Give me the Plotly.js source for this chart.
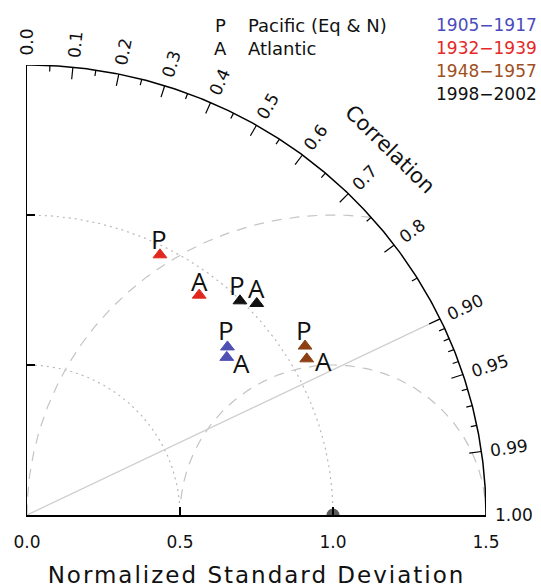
<!DOCTYPE html>
<html><head><meta charset="utf-8">
<script src="https://cdn.plot.ly/plotly-3.0.1.min.js"></script>
<style>
html,body{margin:0;padding:0;background:#fff;}
#chart{width:541px;height:588px;}
text.xtitle{letter-spacing:2px;}
</style></head>
<body><div id="chart"></div>
<script>
// ---------------- DATA ----------------
const periods = ['1905\u22121917', '1932\u22121939', '1948\u22121957', '1998\u22122002'];
const pacificStd   = [0.862, 0.970, 1.069, 0.997];
const pacificCorr  = [0.760, 0.448, 0.850, 0.698];
const atlanticStd  = [0.838, 0.924, 1.052, 1.030];
const atlanticCorr = [0.779, 0.609, 0.869, 0.729];
const regionCodes  = ['P', 'A'];
const regionNames  = ['Pacific (Eq & N)', 'Atlantic'];

const corrMajor  = [0.0, 0.1, 0.2, 0.3, 0.4, 0.5, 0.6, 0.7, 0.8, 0.9, 0.95, 0.99, 1.0];
const corrLabels = ['0.0','0.1','0.2','0.3','0.4','0.5','0.6','0.7','0.8','0.90','0.95','0.99','1.00'];
const corrMinor  = [0.05,0.15,0.25,0.35,0.45,0.55,0.65,0.75,0.85,0.91,0.92,0.93,0.94,0.96,0.97,0.98];
const stdTicks   = [0.0, 0.5, 1.0, 1.5];
const stdLabels  = ['0.0','0.5','1.0','1.5'];
const stdCircles = [0.5, 1.0];
const rmsCircles = [0.5, 1.0];
const refCorrLine = 0.9;
const refStd = 1.0;
const rMax = 1.5;

// ---------------- STYLE ----------------
const periodColors = ['#5050b4', '#e0281e', '#8c4014', '#111111'];
const legendColors = ['#4b4bbe', '#e62828', '#a0501e', '#111111'];
// label offsets (px) per period: [Pacific, Atlantic]
const labelOffsets = [
  [[-1,17],[15,-6]],
  [[-1,16],[0,14]],
  [[-1,16],[17,-2]],
  [[-3,16],[0,15]]
];
const FONT = 'DejaVu Sans';

function xy(s, c){ const t = Math.acos(c); return [s*Math.cos(t), s*Math.sin(t)]; }

const traces = [];
const annotations = [];

// std (dotted) arcs
stdCircles.forEach(r => {
  const xs=[], ys=[];
  for (let i=0;i<=200;i++){ const t=i/200*Math.PI/2; xs.push(r*Math.cos(t)); ys.push(r*Math.sin(t)); }
  traces.push({x:xs,y:ys,mode:'lines',line:{color:'#b8b8b8',width:1.2,dash:'2px,4px'},hoverinfo:'skip',showlegend:false});
});
// rms (dashed) arcs centred on reference
rmsCircles.forEach(rho => {
  let c0 = (rMax*rMax - refStd*refStd - rho*rho)/(2*rho*refStd);
  c0 = Math.max(-1, Math.min(1, c0));
  const t0 = Math.acos(c0);
  const xs=[], ys=[];
  for (let i=0;i<=200;i++){ const t=t0+(Math.PI-t0)*i/200; xs.push(refStd+rho*Math.cos(t)); ys.push(rho*Math.sin(t)); }
  traces.push({x:xs,y:ys,mode:'lines',line:{color:'#c4c4c4',width:1.2,dash:'10px,8px'},hoverinfo:'skip',showlegend:false});
});
// correlation reference line
{
  const p = xy(rMax, refCorrLine);
  traces.push({x:[0,p[0]],y:[0,p[1]],mode:'lines',line:{color:'#cfcfcf',width:1.3},hoverinfo:'skip',showlegend:false});
}
// outer arc
{
  const xs=[], ys=[];
  for (let i=0;i<=300;i++){ const t=i/300*Math.PI/2; xs.push(rMax*Math.cos(t)); ys.push(rMax*Math.sin(t)); }
  traces.push({x:xs,y:ys,mode:'lines',line:{color:'#000',width:1.5},cliponaxis:false,hoverinfo:'skip',showlegend:false});
}
// arc ticks
{
  const xs=[], ys=[];
  const add = (c, len) => { const a = xy(rMax, c), b = xy(rMax-len, c); xs.push(a[0], b[0], null); ys.push(a[1], b[1], null); };
  corrMajor.forEach(c => { if (c>0 && c<1) add(c, 0.04); });
  corrMinor.forEach(c => add(c, 0.02));
  traces.push({x:xs,y:ys,mode:'lines',line:{color:'#000',width:1.2},cliponaxis:false,hoverinfo:'skip',showlegend:false});
}
// arc tick labels
corrMajor.forEach((c, i) => {
  const t = Math.acos(c);
  const lbl = corrLabels[i];
  let w = 0; for (const ch of lbl) w += (ch === '.' ? 0.318 : 0.636);
  w = w*17 - 2;
  const d = 10 + w/2;
  const p = xy(rMax, c);
  annotations.push({x:p[0], y:p[1], xref:'x', yref:'y', text:lbl, showarrow:false,
    xanchor:'center', yanchor:'middle', textangle:-t*180/Math.PI,
    xshift:d*Math.cos(t), yshift:d*Math.sin(t), font:{family:FONT,size:17,color:'#111'}});
});
// "Correlation" title along arc
{
  const p = xy(1.70, 0.697);
  annotations.push({x:p[0], y:p[1], xref:'x', yref:'y', text:'Correlation', showarrow:false,
    xanchor:'center', yanchor:'middle', textangle:44.5, font:{family:FONT,size:21,color:'#111'}});
}
// reference point
traces.push({x:[refStd], y:[0], mode:'markers', marker:{symbol:'circle', size:13, color:'#5a5a5a'}, cliponaxis:true, hoverinfo:'skip', showlegend:false});

// data points
periods.forEach((per, i) => {
  const p = xy(pacificStd[i], pacificCorr[i]);
  const a = xy(atlanticStd[i], atlanticCorr[i]);
  traces.push({x:[p[0], a[0]], y:[p[1], a[1]], mode:'markers', name:per,
    marker:{symbol:'triangle-up', size:12, color:periodColors[i], line:{color:periodColors[i], width:1}},
    cliponaxis:false, showlegend:false});
  [p, a].forEach((q, k) => {
    annotations.push({x:q[0], y:q[1], xref:'x', yref:'y', text:regionCodes[k], showarrow:false,
      xanchor:'center', yanchor:'middle', xshift:labelOffsets[i][k][0], yshift:labelOffsets[i][k][1],
      font:{family:'Open Sans', size:26, color:'#111'}});
  });
});

// legend (top)
const plotW = 541-27-55, plotH = 588-65-73;
const px2x = px => (px-27)/plotW, px2y = py => (515-py)/plotH;
regionCodes.forEach((code, k) => {
  const py = 25 + 23*k;
  annotations.push({x:px2x(220), y:px2y(py), xref:'paper', yref:'paper', text:code, showarrow:false,
    xanchor:'center', yanchor:'middle', font:{family:FONT,size:18,color:'#111'}});
  annotations.push({x:px2x(246), y:px2y(py), xref:'paper', yref:'paper', text:regionNames[k], showarrow:false,
    xanchor:'left', yanchor:'middle', font:{family:FONT,size:18,color:'#111'}});
});
periods.forEach((per, i) => {
  const py = 25 + 23*i;
  annotations.push({x:px2x(539), y:px2y(py), xref:'paper', yref:'paper', text:per, showarrow:false,
    xanchor:'right', yanchor:'middle', font:{family:FONT,size:17,color:legendColors[i]}});
});

const layout = {
  width:541, height:588,
  margin:{l:27, r:55, t:65, b:73, pad:0},
  paper_bgcolor:'#fff', plot_bgcolor:'#fff',
  showlegend:false,
  font:{family:FONT, color:'#111'},
  xaxis:{range:[0,rMax], tickvals:stdTicks, ticktext:stdLabels, ticks:'inside', ticklen:8, tickwidth:1.2,
    tickcolor:'#000', showline:true, linecolor:'#000', linewidth:1.5, showgrid:false, zeroline:false,
    tickfont:{family:FONT,size:17,color:'#111'}, ticklabelstandoff:11, automargin:false,
    title:{text:'Normalized Standard Deviation', font:{family:FONT,size:23,color:'#111'}, standoff:16}},
  yaxis:{range:[0,rMax], tickvals:[0.5,1.0], showticklabels:false, ticks:'inside', ticklen:8, tickwidth:1.2,
    tickcolor:'#000', showline:true, linecolor:'#000', linewidth:1.5, showgrid:false, zeroline:false, automargin:false},
  annotations: annotations
};

Plotly.newPlot('chart', traces, layout, {displayModeBar:false, staticPlot:true});
</script></body></html>
